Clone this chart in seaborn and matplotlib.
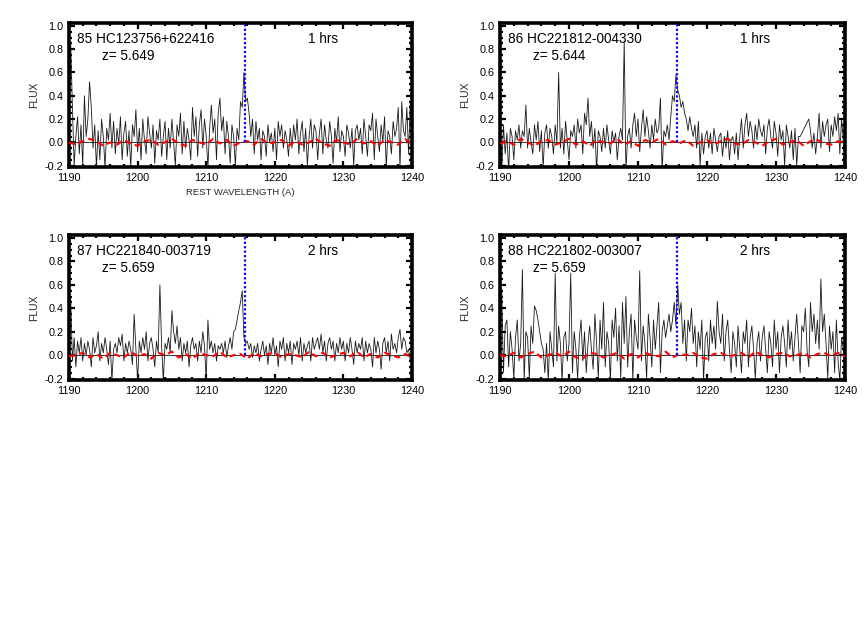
import numpy as np
import pandas as pd
import matplotlib
matplotlib.use("Agg")
import matplotlib.pyplot as plt
from matplotlib.ticker import MultipleLocator, FormatStrFormatter
import seaborn as sns

# ---------------- data ----------------
wave_start, wave_step = 1190.0, 0.25   # spectrum sampling (Angstrom)
err_step = 1.0                          # sampling of red error curve
lya = 1215.67

ids = ["85 HC123756+622416", "86 HC221812-004330", "87 HC221840-003719", "88 HC221802-003007"]
redshifts = ["z= 5.649", "z= 5.644", "z= 5.659", "z= 5.659"]
exposures = ["1 hrs", "1 hrs", "2 hrs", "2 hrs"]

flux85 = [0.15, 0.85, 0.30, -0.20, 0.05, 0.22, -0.10, 0.15, -0.20, 0.40, 0.05, 0.20,
          0.52, 0.30, -0.05, 0.15, -0.22, 0.10, -0.15, 0.20, 0.05, -0.22, 0.12, 0.02,
          0.25, -0.05, 0.18, -0.10, 0.12, -0.02, 0.22, -0.15, 0.08, 0.18, -0.12, 0.10,
          -0.22, 0.15, 0.05, 0.28, -0.08, 0.12, -0.15, 0.20, 0.02, -0.10, 0.22, 0.08,
          -0.05, 0.15, -0.18, 0.10, 0.02, 0.20, -0.12, 0.05, 0.18, -0.15, 0.12, -0.05,
          0.20, 0.00, -0.20, 0.15, 0.05, 0.25, -0.10, 0.18, -0.05, 0.12, 0.02, -0.15,
          0.30, 0.05, 0.22, -0.12, 0.15, 0.28, -0.05, 0.20, 0.05, -0.22, 0.12, 0.32,
          0.08, 0.20, -0.15, 0.25, 0.38, 0.10, 0.22, -0.10, 0.18, 0.05, -0.18, 0.15,
          0.05, -0.20, 0.12, 0.02, 0.35, 0.30, 0.60, 0.35, 0.38, 0.25, 0.05, 0.20,
          -0.10, 0.18, 0.02, 0.12, -0.15, 0.10, 0.05, -0.12, 0.15, 0.00, 0.08, -0.08,
          0.12, -0.15, 0.18, 0.05, 0.15, -0.05, 0.10, 0.02, -0.12, 0.12, -0.05, 0.15,
          0.02, 0.20, -0.10, 0.08, 0.18, -0.08, 0.12, -0.20, 0.05, 0.20, -0.05, 0.15,
          0.10, -0.15, 0.08, 0.20, -0.10, 0.15, 0.02, -0.05, 0.18, 0.05, -0.18, 0.12,
          0.00, 0.22, -0.08, 0.10, 0.05, -0.12, 0.15, 0.08, -0.05, 0.12, -0.20, 0.10,
          0.15, 0.02, 0.12, -0.10, 0.20, 0.05, -0.12, 0.15, 0.10, 0.25, -0.15, 0.20,
          0.05, -0.08, 0.15, 0.00, 0.22, -0.22, 0.10, 0.05, -0.10, 0.18, 0.05, 0.12,
          0.30, -0.22, 0.35, 0.10, 0.05, 0.30, -0.10, 0.35, -0.05]

flux86 = [0.20, -0.25, 0.15, -0.10, 0.08, -0.25, 0.12, 0.05, -0.15, 0.10, 0.02, 0.15,
          -0.05, 0.10, 0.05, 0.32, -0.05, 0.12, 0.00, -0.10, 0.15, 0.02, 0.18, -0.08,
          0.10, -0.22, 0.08, 0.15, -0.05, 0.12, 0.05, -0.10, 0.15, 0.00, 0.60, -0.05,
          0.12, -0.10, 0.18, 0.02, -0.15, 0.10, 0.05, 0.15, -0.05, 0.20, 0.08, 0.15,
          -0.10, 0.25, 0.15, 0.38, 0.05, 0.18, -0.05, 0.12, -0.25, 0.10, 0.05, -0.08,
          0.12, -0.05, 0.15, 0.02, -0.10, 0.10, 0.00, 0.08, -0.15, 0.05, 0.12, 0.02,
          0.87, -0.25, 0.05, 0.12, -0.05, 0.15, 0.25, 0.05, 0.20, -0.08, 0.12, 0.28,
          0.05, 0.22, 0.10, -0.05, 0.15, 0.02, 0.20, 0.08, 0.12, 0.38, -0.25, 0.10,
          0.05, 0.15, 0.02, 0.22, 0.40, 0.35, 0.58, 0.45, 0.40, 0.30, 0.35, 0.25,
          0.20, 0.10, 0.22, 0.12, 0.05, 0.15, -0.05, 0.18, -0.20, 0.08, -0.10, 0.05,
          0.10, -0.05, 0.08, -0.10, 0.12, 0.02, -0.08, 0.05, 0.08, -0.12, 0.05, -0.05,
          0.10, -0.15, 0.02, 0.05, -0.10, 0.08, -0.15, 0.05, 0.20, -0.05, 0.15, 0.25,
          0.05, 0.18, 0.10, -0.05, 0.15, 0.02, 0.20, 0.10, 0.05, 0.15, -0.10, 0.12,
          0.20, 0.05, -0.05, 0.18, 0.08, -0.12, 0.15, 0.02, 0.10, -0.20, 0.15, 0.05,
          -0.05, 0.10, -0.15, 0.12, -0.20, 0.05, 0.05, 0.08, 0.11, 0.14, 0.17, 0.20,
          0.10, -0.05, 0.08, -0.10, 0.05, 0.25, -0.05, 0.18, 0.05, 0.15, 0.20, -0.08,
          0.15, 0.05, 0.22, 0.10, 0.25, -0.10, 0.20, 0.02, -0.12]

flux87 = [0.05, 0.48, -0.05, 0.15, -0.10, 0.12, 0.02, 0.15, -0.05, 0.10, 0.00, 0.12,
          0.05, -0.10, 0.15, 0.02, 0.08, 0.20, -0.05, 0.10, 0.02, 0.15, 0.05, -0.08,
          0.12, -0.22, 0.05, 0.10, 0.02, 0.15, 0.08, 0.18, -0.05, 0.10, 0.02, 0.12,
          0.05, -0.08, 0.35, 0.05, -0.22, 0.12, 0.02, 0.15, 0.05, 0.20, -0.05, 0.10,
          0.15, 0.05, -0.10, 0.12, 0.02, 0.60, 0.08, -0.22, 0.10, 0.05, 0.15, 0.02,
          0.38, 0.20, 0.10, 0.25, 0.05, 0.15, -0.05, 0.10, 0.02, 0.12, -0.10, 0.08,
          0.15, 0.05, 0.10, -0.05, 0.12, 0.02, 0.20, 0.08, -0.22, 0.30, 0.05, 0.12,
          0.02, 0.10, -0.05, 0.08, 0.05, 0.10, 0.02, 0.12, -0.02, 0.08, 0.15, 0.05,
          0.20, 0.22, 0.30, 0.38, 0.45, 0.55, 0.15, 0.10, 0.12, 0.05, 0.10, -0.02,
          0.08, 0.02, 0.10, -0.05, 0.05, 0.12, 0.00, 0.08, -0.08, 0.10, 0.02, 0.15,
          0.00, 0.08, -0.10, 0.12, 0.05, 0.15, -0.05, 0.10, 0.02, 0.12, -0.08, 0.10,
          0.05, 0.12, 0.00, 0.15, -0.05, 0.10, 0.02, 0.08, 0.12, -0.05, 0.15, 0.05,
          0.10, 0.15, 0.05, 0.18, 0.02, 0.12, -0.05, 0.10, 0.15, 0.05, 0.12, -0.05,
          0.10, 0.02, 0.15, 0.05, 0.12, -0.05, 0.10, 0.02, 0.15, 0.05, -0.08, 0.12,
          0.02, 0.10, 0.05, 0.15, -0.05, 0.12, 0.02, 0.10, 0.05, -0.10, 0.15, 0.02,
          0.12, 0.05, -0.12, 0.10, 0.15, 0.02, 0.12, -0.05, 0.18, 0.05, 0.10, 0.02,
          0.15, 0.22, 0.05, 0.15, 0.12, 0.02, 0.05, -0.05, -0.02]

flux88 = [0.10, 0.55, -0.15, 0.25, 0.30, -0.10, 0.20, 0.05, -0.20, 0.15, 0.30, -0.05,
          0.10, 0.73, -0.22, 0.20, 0.15, -0.20, 0.25, 0.10, 0.42, 0.38, 0.30, 0.20,
          0.10, 0.05, -0.15, 0.10, -0.22, 0.20, 0.05, -0.10, 0.70, -0.05, 0.25, 0.10,
          -0.22, 0.15, 0.20, -0.05, 0.10, 0.70, -0.15, 0.20, 0.05, -0.20, 0.15, 0.30,
          -0.05, 0.20, -0.15, 0.10, 0.25, 0.05, -0.12, 0.35, 0.10, -0.20, 0.30, 0.05,
          0.45, -0.10, 0.20, 0.10, -0.22, 0.30, 0.15, 0.40, -0.05, 0.25, -0.20, 0.45,
          0.10, 0.50, -0.10, 0.20, 0.35, -0.22, 0.30, 0.15, 0.05, 0.72, -0.05, 0.25,
          0.10, -0.20, 0.35, 0.15, -0.10, 0.30, 0.05, 0.25, 0.45, -0.15, 0.20, 0.30,
          0.15, 0.25, 0.35, 0.20, 0.30, 0.45, 0.25, 0.60, 0.35, 0.45, 0.10, 0.30,
          -0.05, 0.30, 0.20, 0.40, 0.10, 0.25, -0.10, 0.20, 0.05, 0.30, -0.22, 0.15,
          0.20, -0.05, 0.30, 0.10, 0.25, 0.05, 0.46, 0.20, 0.10, 0.35, -0.05, 0.20,
          0.30, 0.05, -0.15, 0.20, 0.10, -0.10, 0.25, 0.05, -0.15, 0.20, 0.10, 0.30,
          -0.10, 0.15, 0.25, 0.05, -0.20, 0.10, 0.20, -0.05, 0.15, 0.25, 0.05, -0.15,
          0.20, 0.10, -0.10, 0.30, 0.05, 0.20, -0.15, 0.15, 0.25, 0.10, -0.10, 0.30,
          0.05, 0.20, -0.05, 0.15, 0.35, 0.10, -0.15, 0.25, 0.20, 0.40, 0.05, -0.10,
          0.45, 0.20, 0.35, 0.10, 0.30, 0.05, 0.65, 0.20, 0.35, 0.10, -0.20, 0.25,
          0.05, 0.20, -0.15, 0.30, -0.05, -0.22, 0.15, 0.05, -0.10]

err85 = [0.00, -0.02, 0.01, 0.03, 0.01, -0.03, 0.00, -0.02, 0.02, -0.01, -0.03, 0.01, 0.02,
         -0.02, 0.00, 0.03, -0.01, -0.03, 0.02, 0.00, -0.02, 0.03, -0.01, 0.02, -0.03, 0.00,
         0.01, -0.02, 0.03, -0.01, 0.00, 0.02, -0.03, 0.01, -0.02, 0.00, 0.03, -0.01, -0.03,
         0.02, 0.00, -0.02, 0.03, -0.01, 0.01, -0.03, 0.02, 0.00, -0.02, 0.03, -0.02]
err86 = [-0.01, 0.01, -0.02, 0.03, 0.00, -0.03, 0.01, 0.02, -0.02, 0.00, 0.03, -0.02, 0.01,
         -0.03, 0.02, 0.00, -0.01, 0.03, -0.02, 0.01, -0.03, 0.02, 0.00, 0.03, -0.02, 0.01,
         -0.01, 0.02, -0.03, 0.00, 0.02, -0.02, 0.01, 0.03, -0.01, -0.02, 0.02, 0.00, -0.03,
         0.01, 0.03, -0.02, 0.00, 0.02, -0.03, 0.01, 0.02, -0.01, -0.02, 0.01, -0.01]
err87 = [-0.01, 0.00, 0.02, -0.02, 0.01, -0.03, 0.02, 0.00, -0.02, 0.03, -0.01, 0.01, -0.03,
         0.02, 0.00, 0.03, -0.02, 0.01, -0.03, 0.02, 0.00, -0.01, 0.03, -0.02, 0.00, 0.01,
         -0.03, 0.02, -0.01, 0.01, 0.02, -0.02, 0.01, 0.00, -0.02, 0.03, -0.01, 0.02, -0.02,
         0.00, 0.02, -0.01, 0.03, -0.02, 0.01, -0.02, 0.02, 0.00, -0.02, 0.01, -0.02]
err88 = [0.00, -0.01, 0.02, -0.02, 0.01, 0.03, -0.02, 0.00, 0.02, -0.01, 0.03, -0.02, -0.03,
         0.02, 0.01, -0.02, 0.00, 0.02, -0.03, 0.01, -0.02, 0.02, 0.00, -0.01, 0.03, -0.02,
         0.01, 0.00, 0.02, -0.02, -0.03, 0.01, 0.02, -0.01, 0.00, 0.02, -0.02, 0.03, 0.00,
         -0.02, 0.01, 0.02, -0.01, 0.00, 0.02, -0.02, 0.01, 0.02, -0.01, 0.02, -0.01]

fluxes = [flux85, flux86, flux87, flux88]
errs = [err85, err86, err87, err88]

# ---------------- style ----------------
sns.set_theme(style="ticks")
plt.rcParams["font.family"] = ["Liberation Sans", "DejaVu Sans"]
plt.rcParams["axes.linewidth"] = 2.6

fig = plt.figure(figsize=(8.64, 6.37), dpi=100)
W, H = 864, 637
boxes = [(69, 23, 412, 167), (500, 23, 845, 167), (69, 235, 412, 380), (500, 235, 845, 380)]

for k in range(4):
    l, t, r, b = boxes[k]
    ax = fig.add_axes([l / W, 1 - b / H, (r - l) / W, (b - t) / H])
    f = np.asarray(fluxes[k])
    x = wave_start + wave_step * np.arange(len(f))
    e = np.asarray(errs[k])
    xe = wave_start + err_step * np.arange(len(e))
    df = pd.DataFrame({"wave": x, "flux": f})
    de = pd.DataFrame({"wave": xe, "err": e})

    ax.axhline(0, color="#333333", lw=0.7, zorder=1)
    sns.lineplot(data=df, x="wave", y="flux", ax=ax, color="#1a1a1a", lw=0.6,
                 estimator=None, sort=False, zorder=2)
    sns.lineplot(data=de, x="wave", y="err", ax=ax, color="red", lw=1.5,
                 estimator=None, sort=False, zorder=3, linestyle=(0, (3, 2)))
    ax.plot([lya, lya], [0, 1.05], color="blue", lw=1.6, linestyle=(0, (1, 1)), zorder=4)

    ax.set_xlim(1190, 1240)
    ax.set_ylim(-0.212, 1.025)
    ax.xaxis.set_major_locator(MultipleLocator(10))
    ax.xaxis.set_minor_locator(MultipleLocator(2))
    ax.yaxis.set_major_locator(MultipleLocator(0.2))
    ax.yaxis.set_minor_locator(MultipleLocator(0.05))
    ax.yaxis.set_major_formatter(FormatStrFormatter("%.1f"))
    ax.tick_params(which="both", direction="in", top=True, right=True,
                   labelsize=7.8, colors="black", width=1.6, pad=4)
    ax.tick_params(which="major", length=4.5)
    ax.tick_params(which="minor", length=2.2)
    for sp in ax.spines.values():
        sp.set_color("black")
        sp.set_linewidth(2.6)

    ax.set_ylabel("FLUX", fontsize=7.5, labelpad=4)
    if k == 0:
        ax.set_xlabel("REST WAVELENGTH (A)", fontsize=6.8, labelpad=4)
    else:
        ax.set_xlabel("")

    ax.text(0.022, 0.89, ids[k], transform=ax.transAxes, fontsize=9.8,
            va="center", ha="left", color="black")
    ax.text(0.095, 0.77, redshifts[k], transform=ax.transAxes, fontsize=9.8,
            va="center", ha="left", color="black")
    ax.text(0.697, 0.89, exposures[k], transform=ax.transAxes, fontsize=9.8,
            va="center", ha="left", color="black")

fig.savefig("out.png", dpi=100)
